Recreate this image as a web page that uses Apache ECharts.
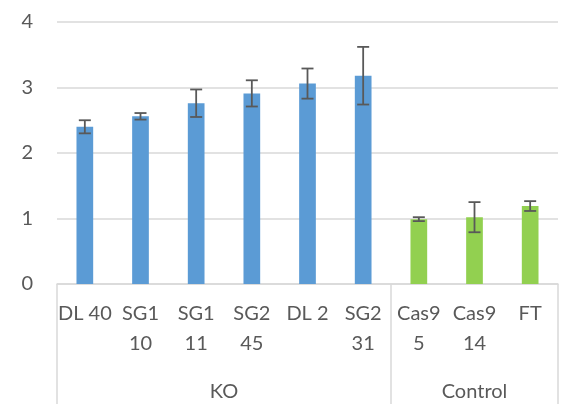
<!DOCTYPE html>
<html><head><meta charset="utf-8">
<script src="https://cdn.jsdelivr.net/npm/echarts@6/dist/echarts.min.js"></script>
<style>html,body{margin:0;padding:0;background:#fff}#c{width:568px;height:404px}</style>
</head><body><div id="c"></div>
<script>
const categories = ['DL 40','SG1\n10','SG1\n11','SG2\n45','DL 2','SG2\n31','Cas9\n5','Cas9\n14','FT'];
const values = [2.40, 2.56, 2.76, 2.91, 3.06, 3.18, 0.99, 1.02, 1.19];
const errors = [0.10, 0.05, 0.21, 0.20, 0.23, 0.44, 0.03, 0.23, 0.075];
const groups = ['KO', 'Control'];
const groupSizes = [6, 3];
const groupColors = ['#5B9BD5', '#92D050'];
const yTicks = [0, 1, 2, 3, 4];

const FONT = 'Lato';
const TXT = '#595959';
const GRID = '#D9D9D9';

// group index for each category
const groupOf = [];
groupSizes.forEach((n, g) => { for (let k = 0; k < n; k++) groupOf.push(g); });
// boundaries and centers of groups
const bounds = [0];
groupSizes.forEach(n => bounds.push(bounds[bounds.length - 1] + n));
const centers = groupSizes.map((n, g) => bounds[g] + n / 2);

const chart = echarts.init(document.getElementById('c'), null, {renderer: 'canvas'});
chart.setOption({
  animation: false,
  grid: {left: 57, right: 10, top: 22, bottom: 120},
  xAxis: [{
    type: 'category',
    data: categories,
    axisLine: {show: true, lineStyle: {color: GRID, width: 1.5}},
    axisTick: {show: false},
    axisLabel: {interval: 0, color: TXT, fontFamily: FONT, fontSize: 20, lineHeight: 30, margin: 15}
  }, {
    type: 'value', min: 0, max: bounds[bounds.length - 1], position: 'bottom',
    axisLine: {show: false},
    splitLine: {show: false},
    axisTick: {show: true, customValues: bounds, length: 120, lineStyle: {color: GRID, width: 1.5}},
    axisLabel: {
      show: true, customValues: centers, color: TXT, fontFamily: FONT, fontSize: 20, margin: 98,
      formatter: v => { const i = centers.findIndex(c => Math.abs(c - v) < 1e-6); return i >= 0 ? groups[i] : ''; }
    }
  }],
  yAxis: {
    type: 'value', min: yTicks[0], max: yTicks[yTicks.length - 1], interval: 1,
    axisLine: {show: false}, axisTick: {show: false},
    axisLabel: {color: TXT, fontFamily: FONT, fontSize: 20, margin: 24},
    splitLine: {lineStyle: {color: GRID, width: 1.5}}
  },
  series: [{
    type: 'bar',
    xAxisIndex: 0,
    barWidth: '30%',
    data: values.map((v, i) => ({value: v, itemStyle: {color: groupColors[groupOf[i]]}}))
  }, {
    type: 'custom',
    xAxisIndex: 0,
    z: 10,
    data: values.map((v, i) => [i, v - errors[i], v + errors[i]]),
    renderItem: (params, api) => {
      const x = api.value(0);
      const lo = api.coord([x, api.value(1)]);
      const hi = api.coord([x, api.value(2)]);
      const hw = 6;
      const st = {stroke: '#595959', lineWidth: 1.8};
      return {type: 'group', children: [
        {type: 'line', shape: {x1: hi[0], y1: hi[1], x2: lo[0], y2: lo[1]}, style: st},
        {type: 'line', shape: {x1: hi[0] - hw, y1: hi[1], x2: hi[0] + hw, y2: hi[1]}, style: st},
        {type: 'line', shape: {x1: lo[0] - hw, y1: lo[1], x2: lo[0] + hw, y2: lo[1]}, style: st}
      ]};
    }
  }]
});
</script></body></html>
